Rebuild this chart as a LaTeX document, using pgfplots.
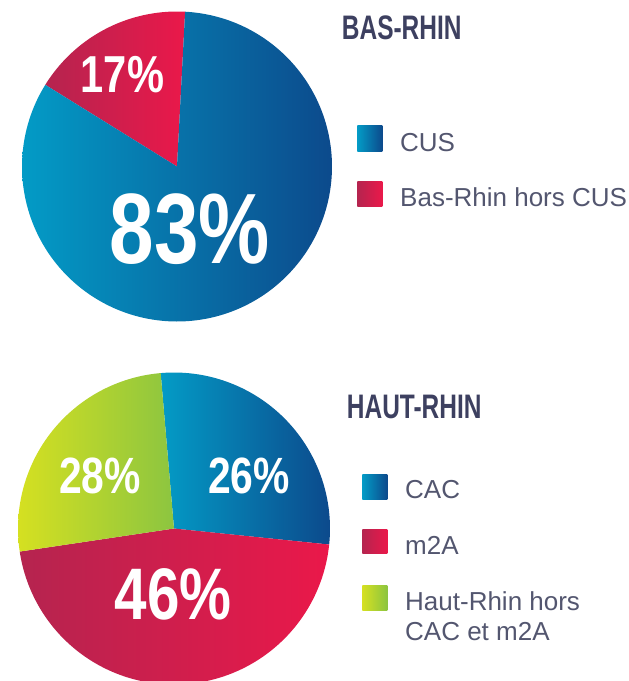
\documentclass[border=0pt]{standalone}
\usepackage{pgfplots}
\pgfplotsset{compat=1.18}
\usepackage{fontspec}
\setmainfont{Liberation Sans}
\definecolor{bluL}{HTML}{039BC6}
\definecolor{bluR}{HTML}{0C4A8C}
\definecolor{redL}{HTML}{B5244F}
\definecolor{redR}{HTML}{EA184A}
\definecolor{grnL}{HTML}{D5E021}
\definecolor{grnR}{HTML}{8CC540}
\definecolor{ttl}{HTML}{3D4060}
\definecolor{txt}{HTML}{53566F}
\newcommand{\pct}[2]{\scalebox{0.8}[1]{\fontsize{#1}{#1}\selectfont\bfseries #2}}
\newcommand{\ttlfont}[1]{\scalebox{0.72}[1]{\fontsize{34}{34}\selectfont\bfseries #1}}
\begin{document}
\begin{tikzpicture}
\path[use as bounding box] (0,0) rectangle (629pt,-681pt);
% ---------- Bas-Rhin ----------
\begin{axis}[at={(177pt,-166.5pt)}, anchor=center, width=310pt, height=310pt,
  scale only axis, xmin=-1, xmax=1, ymin=-1, ymax=1, hide axis, clip=false]
% Bas-Rhin hors CUS: 17 %
\addplot[draw=none, left color=redL, right color=redR, domain=87:87+3.6*17, samples=60, variable=\t]
  ({cos(t)},{sin(t)}) -- (axis cs:0,0) -- cycle;
% CUS: 83 %
\addplot[draw=none, left color=bluL, right color=bluR, domain=87+3.6*17:87+3.6*100, samples=200, variable=\t]
  ({cos(t)},{sin(t)}) -- (axis cs:0,0) -- cycle;
\end{axis}
\node[anchor=base, text=white] at (122.5pt,-92.7pt) {\pct{52}{17\%}};
\node[anchor=base, text=white] at (190pt,-263.3pt) {\pct{100}{83\%}};
\node[anchor=base west, inner sep=0pt, text=ttl] at (341.7pt,-39.3pt) {\ttlfont{BAS-RHIN}};
\shade[left color=bluL, right color=bluR] (357.3pt,-125.7pt) rectangle (382.3pt,-151.7pt);
\shade[left color=redL, right color=redR] (357.3pt,-181.7pt) rectangle (382.3pt,-206.7pt);
\node[anchor=base west, inner sep=0pt, text=txt] at (400pt,-151.7pt) {\fontsize{26}{30}\selectfont CUS};
\node[anchor=base west, inner sep=0pt, text=txt] at (400pt,-206.7pt) {\fontsize{26}{30}\selectfont Bas-Rhin hors CUS};
% ---------- Haut-Rhin ----------
\begin{axis}[at={(174pt,-528.5pt)}, anchor=center, width=312pt, height=312pt,
  scale only axis, xmin=-1, xmax=1, ymin=-1, ymax=1, hide axis, clip=false]
% CAC
\addplot[draw=none, left color=bluL, right color=bluR, domain=94.9-3.6*28:94.9, samples=80, variable=\t]
  ({cos(t)},{sin(t)}) -- (axis cs:0,0) -- cycle;
% m2A
\addplot[draw=none, left color=redL, right color=redR, domain=94.9-3.6*74:94.9-3.6*28, samples=120, variable=\t]
  ({cos(t)},{sin(t)}) -- (axis cs:0,0) -- cycle;
% Haut-Rhin hors CAC et m2A
\addplot[draw=none, left color=grnL, right color=grnR, domain=94.9-3.6*100:94.9-3.6*74, samples=80, variable=\t]
  ({cos(t)},{sin(t)}) -- (axis cs:0,0) -- cycle;
\end{axis}
\node[anchor=base, text=white] at (100pt,-493.3pt) {\pct{51}{28\%}};
\node[anchor=base, text=white] at (249pt,-493.3pt) {\pct{51}{26\%}};
\node[anchor=base, text=white] at (173.4pt,-619.3pt) {\pct{73}{46\%}};
\node[anchor=base west, inner sep=0pt, text=ttl] at (346.7pt,-418.3pt) {\ttlfont{HAUT-RHIN}};
\shade[left color=bluL, right color=bluR] (362.3pt,-474.3pt) rectangle (387.3pt,-499pt);
\shade[left color=redL, right color=redR] (362.3pt,-529pt) rectangle (387.3pt,-553.3pt);
\shade[left color=grnL, right color=grnR] (362.3pt,-585pt) rectangle (387.3pt,-610pt);
\node[anchor=base west, inner sep=0pt, text=txt] at (405pt,-498.3pt) {\fontsize{26}{30}\selectfont CAC};
\node[anchor=base west, inner sep=0pt, text=txt] at (405pt,-554pt) {\fontsize{26}{30}\selectfont m2A};
\node[anchor=base west, inner sep=0pt, text=txt] at (405pt,-610pt) {\fontsize{26}{30}\selectfont Haut-Rhin hors};
\node[anchor=base west, inner sep=0pt, text=txt] at (405pt,-640pt) {\fontsize{26}{30}\selectfont CAC et m2A};
\end{tikzpicture}
\end{document}
